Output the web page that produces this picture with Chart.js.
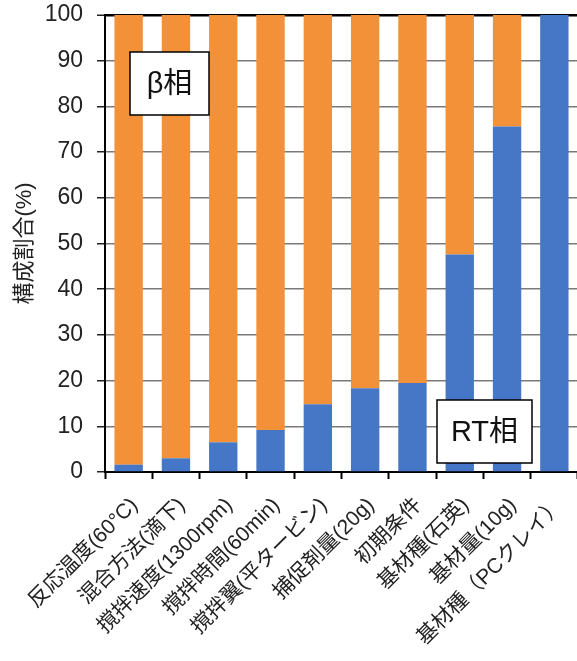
<!DOCTYPE html>
<html>
<head>
<meta charset="utf-8">
<script src="https://cdn.jsdelivr.net/npm/chart.js@4.4.1/dist/chart.umd.min.js"></script>
<style>
  html, body { margin: 0; padding: 0; background: #fff; overflow: hidden; }
  #wrap { position: relative; width: 578px; height: 661px; }
</style>
</head>
<body>
<div id="wrap"><canvas id="c"></canvas></div>
<script>
// Experimental conditions (x categories)
const categories = [
  '反応温度(60°C)', '混合方法(滴下)', '撹拌速度(1300rpm)', '撹拌時間(60min)',
  '撹拌翼(平タービン)', '捕促剤量(20g)', '初期条件', '基材種(石英)',
  '基材量(10g)', '基材種（PCクレイ）'
];
// Composition ratio (%) of each phase
const rtPhase   = [1.6, 3.0, 6.5, 9.2, 14.8, 18.3, 19.5, 47.6, 75.6, 100];
const betaPhase = [98.4, 97.0, 93.5, 90.8, 85.2, 81.7, 80.5, 52.4, 24.4, 0];
// Y axis
const yTicks = { min: 0, max: 100, step: 10 };
const yTitle = '構成割合(%)';
// Phase labels placed inside the plot
const phaseLabels = [
  { text: 'β相', x: 130, y: 52, w: 79, h: 63 },
  { text: 'RT相', x: 437, y: 400, w: 95, h: 63 }
];

const FONT = '"Liberation Sans", "Noto Sans CJK JP", sans-serif';

const labelBoxes = {
  id: 'labelBoxes',
  afterDraw(chart) {
    const ctx = chart.ctx;
    ctx.save();
    phaseLabels.forEach(b => {
      ctx.fillStyle = '#fff';
      ctx.fillRect(b.x, b.y, b.w, b.h);
      ctx.strokeStyle = '#000';
      ctx.lineWidth = 1.5;
      ctx.strokeRect(b.x, b.y, b.w, b.h);
      ctx.fillStyle = '#111';
      ctx.font = '29px ' + FONT;
      ctx.textAlign = 'center';
      ctx.textBaseline = 'middle';
      ctx.fillText(b.text, b.x + b.w / 2, b.y + b.h / 2 + 1);
    });
    ctx.restore();
  }
};

new Chart(document.getElementById('c'), {
  type: 'bar',
  data: {
    labels: categories,
    datasets: [
      { label: 'RT相', data: rtPhase, backgroundColor: '#4677C6', borderWidth: 0 },
      { label: 'β相', data: betaPhase, backgroundColor: '#F29138', borderWidth: 0 }
    ]
  },
  options: {
    responsive: true,
    maintainAspectRatio: false,
    animation: false,
    devicePixelRatio: 1,
    layout: { padding: { top: 15, left: 0, right: 0, bottom: 0 } },
    datasets: { bar: { categoryPercentage: 0.6, barPercentage: 1.0 } },
    plugins: { legend: { display: false }, tooltip: { enabled: false } },
    scales: {
      x: {
        stacked: true,
        offset: true,
        border: { color: '#000', width: 2 },
        grid: { drawOnChartArea: false, offset: true, tickLength: 7, tickColor: '#000', tickWidth: 2 },
        ticks: {
          autoSkip: false, maxRotation: 45, minRotation: 45, padding: 14, labelOffset: 6,
          color: '#222', font: { family: FONT, size: 21 }
        },
        afterFit(s) { s.height = 189; s.paddingLeft = 0; s.paddingRight = 0; }
      },
      y: {
        stacked: true,
        min: yTicks.min, max: yTicks.max,
        border: { color: '#000', width: 2 },
        grid: {
          color: c => (c.tick && c.tick.value === yTicks.max) ? '#000' : '#7a7a7a',
          lineWidth: c => (c.tick && c.tick.value === yTicks.max) ? 2.5 : 1.5,
          tickLength: 8, tickColor: '#222', tickWidth: 1.5
        },
        ticks: {
          stepSize: yTicks.step, padding: 14,
          color: '#222', font: { family: FONT, size: 23 }
        },
        title: {
          display: true, text: yTitle, color: '#222', padding: { top: 12, bottom: 4 },
          font: { family: FONT, size: 22 }
        },
        afterFit(s) { s.width = 105; s.paddingTop = 0; s.paddingBottom = 0; }
      }
    }
  },
  plugins: [labelBoxes]
});
</script>
</body>
</html>
